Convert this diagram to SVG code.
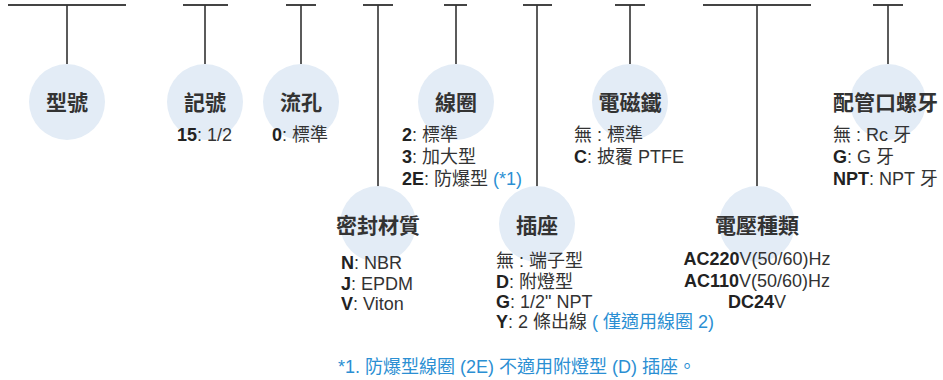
<svg xmlns="http://www.w3.org/2000/svg" width="943" height="380" viewBox="0 0 943 380">
<style>
.bar{stroke:#444;stroke-width:2;fill:none}
.stem{stroke:#333;stroke-width:1.6;fill:none}
.bub{fill:#e3ecf6}
.title{font-family:"Liberation Sans","Noto Sans CJK TC",sans-serif;font-size:21px;font-weight:bold;fill:#333;text-anchor:middle}
.tl{text-anchor:start}
.d{font-family:"Liberation Sans","Noto Sans CJK TC",sans-serif;font-size:18px;fill:#333}
.b{font-weight:bold;fill:#222}
.blue{fill:#2b8fd3}
.c{text-anchor:middle}
</style>
<rect width="943" height="380" fill="#fff"/>
<g id="connectors">
<path class="bar" d="M8 5H126M183 5H228M286 5H316M363 5H393M444 5H467M523 5H552M615 5H645M703 5H811M873 5H903"/>
<path class="stem" d="M67 5V64M205 5V64M301 5V64M378 5V187M456 5V64M537 5V187M630 5V64M757 5V187M888 5V64"/>
</g>
<g id="node-model">
<circle class="bub" cx="67" cy="102" r="38"/>
<text class="title" x="67" y="110">型號</text>
</g>
<g id="node-code">
<circle class="bub" cx="205" cy="102" r="38"/>
<text class="title" x="205" y="110">記號</text>
<text class="d" x="177" y="141"><tspan class="b">15</tspan>: 1/2</text>
</g>
<g id="node-orifice">
<circle class="bub" cx="301" cy="102" r="38"/>
<text class="title" x="301" y="110">流孔</text>
<text class="d" x="272" y="141"><tspan class="b">0</tspan>: 標準</text>
</g>
<g id="node-seal">
<circle class="bub" cx="378" cy="224" r="38"/>
<text class="title" x="378" y="233">密封材質</text>
<text class="d" x="341" y="269"><tspan class="b">N</tspan>: NBR</text>
<text class="d" x="341" y="290"><tspan class="b">J</tspan>: EPDM</text>
<text class="d" x="341" y="310"><tspan class="b">V</tspan>: Viton</text>
</g>
<g id="node-coil">
<circle class="bub" cx="456" cy="102" r="38"/>
<text class="title" x="456" y="110">線圈</text>
<text class="d" x="402" y="141"><tspan class="b">2</tspan>: 標準</text>
<text class="d" x="402" y="163"><tspan class="b">3</tspan>: 加大型</text>
<text class="d" x="402" y="185"><tspan class="b">2E</tspan>: 防爆型 <tspan class="blue">(*1)</tspan></text>
</g>
<g id="node-socket">
<circle class="bub" cx="537" cy="224" r="38"/>
<text class="title" x="537" y="233">插座</text>
<text class="d" x="496" y="267">無 : 端子型</text>
<text class="d" x="496" y="288"><tspan class="b">D</tspan>: 附燈型</text>
<text class="d" x="496" y="308"><tspan class="b">G</tspan>: 1/2" NPT</text>
<text class="d" x="496" y="328"><tspan class="b">Y</tspan>: 2 條出線 <tspan class="blue">( 僅適用線圈 2)</tspan></text>
</g>
<g id="node-solenoid">
<circle class="bub" cx="630" cy="102" r="38"/>
<text class="title" x="630" y="110">電磁鐵</text>
<text class="d" x="574" y="141">無 : 標準</text>
<text class="d" x="574" y="163"><tspan class="b">C</tspan>: 披覆 PTFE</text>
</g>
<g id="node-voltage">
<circle class="bub" cx="757" cy="224" r="38"/>
<text class="title" x="757" y="233">電壓種類</text>
<text class="d c" x="757" y="265"><tspan class="b">AC220</tspan>V(50/60)Hz</text>
<text class="d c" x="757" y="287"><tspan class="b">AC110</tspan>V(50/60)Hz</text>
<text class="d c" x="757" y="308"><tspan class="b">DC24</tspan>V</text>
</g>
<g id="node-thread">
<circle class="bub" cx="888" cy="102" r="38"/>
<text class="title tl" x="833" y="110">配管口螺牙</text>
<text class="d" x="833" y="141">無 : Rc 牙</text>
<text class="d" x="833" y="163"><tspan class="b">G</tspan>: G 牙</text>
<text class="d" x="833" y="185"><tspan class="b">NPT</tspan>: NPT 牙</text>
</g>
<g id="footnote">
<text class="d blue" x="338" y="373">*1. 防爆型線圈 (2E) 不適用附燈型 (D) 插座。</text>
</g>
</svg>
